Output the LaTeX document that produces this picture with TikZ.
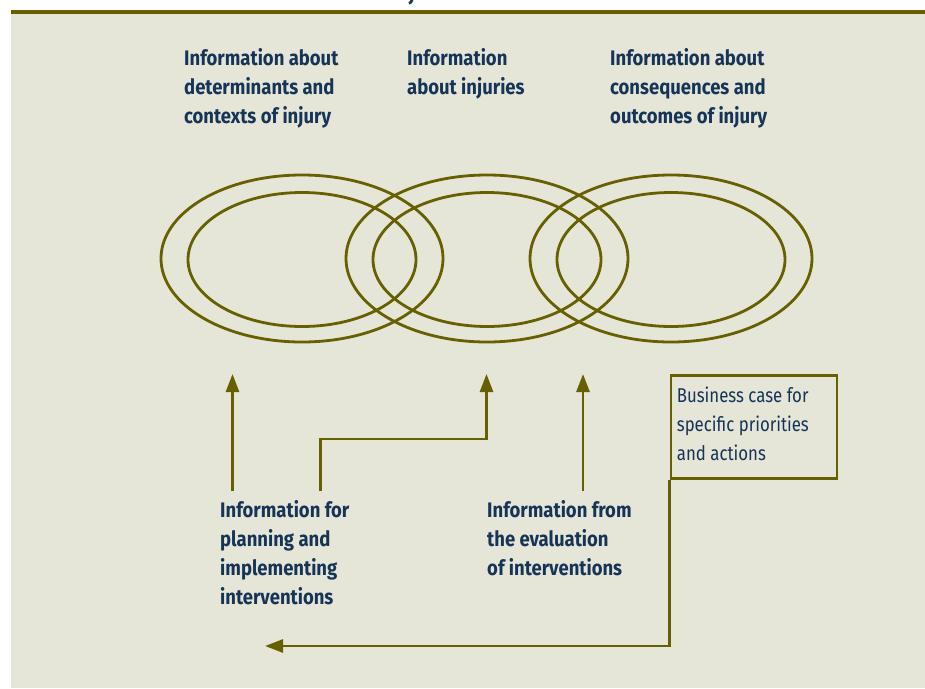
\documentclass[tikz,border=0pt]{standalone}
\usepackage{fontspec}
\setmainfont{Fira Sans}
\newfontfamily\labfont[FakeStretch=0.88]{Fira Sans}
\newfontfamily\boxfont[FakeStretch=0.84]{Fira Sans}
\usetikzlibrary{arrows.meta}

\definecolor{paper}{RGB}{229,229,216}
\definecolor{olive}{RGB}{102,96,0}
\definecolor{navy}{RGB}{22,52,86}

\tikzset{
  ring/.style={draw=olive, line width=2.8pt},
  link/.style={draw=olive, line width=2.7pt},
  tip/.style={-{Triangle[length=18pt,width=13pt]}},
  % multi-line nodes are placed by the baseline of their last line
  heading/.style={font=\labfont\bfseries\fontsize{21}{29}\selectfont,
    text=navy, align=left, inner sep=0pt, anchor=base west},
  boxlabel/.style={font=\boxfont\fontsize{20}{29}\selectfont,
    text=navy, align=left, inner sep=0pt, anchor=base west},
  framebox/.style={draw=olive, line width=2.7pt, inner sep=0pt,
    minimum width=166pt, minimum height=103pt, anchor=north west}
}

\begin{document}
\begin{tikzpicture}[x=1pt,y=-1pt]
  % page and panel
  \useasboundingbox (0,0) rectangle (925,688);
  \fill[white] (0,0) rectangle (925,688);
  \fill[paper] (11,13) rectangle (925,688);
  \fill[olive] (11,10) rectangle (925,13.5);
  \begin{scope}
    \clip (0,0) rectangle (925,10);
    \node[font=\labfont\bfseries\fontsize{21}{24}\selectfont, text=navy,
      inner sep=0pt, anchor=base] (caption) at (412,0) {j};
  \end{scope}

  % three pairs of nested rings
  \foreach \cx in {302,487,671} {
    \draw[ring] (\cx,258.5) ellipse [x radius=141pt, y radius=83.5pt];
    \draw[ring] (\cx,259.5) ellipse [x radius=114pt, y radius=67pt];
  }

  % headings above the rings
  \node[heading] (det) at (184,123.7)
    {Information about\\determinants and\\contexts of injury};
  \node[heading] (inj) at (407,94.7)
    {Information\\about injuries};
  \node[heading] (cons) at (610,123.7)
    {Information about\\consequences and\\outcomes of injury};

  % labels below
  \node[heading] (plan) at (220,604.7)
    {Information for\\planning and\\implementing\\interventions};
  \node[heading] (eval) at (487,575.7)
    {Information from\\the evaluation\\of interventions};

  % business case box
  \node[framebox] (biz) at (669.5,374) {};
  \node[boxlabel] (biztext) at (676.7,460.7)
    {Business case for\\specific priorities\\and actions};

  % connector end points
  \coordinate (s1) at (232.5,491);
  \coordinate (t1) at (232.5,374);
  \coordinate (s2) at (320.7,491);
  \coordinate (k2) at (486.5,439);
  \coordinate (t2) at (486.5,374);
  \coordinate (s3) at (583,491);
  \coordinate (t3) at (583,374);
  \coordinate (back) at (265,646);

  % connectors
  \draw[link,tip] (s1) -- (t1);
  \draw[link,tip] (s2) |- (k2) -- (t2);
  \draw[link,tip] (s3) -- (t3);
  \draw[link,tip] (biz.south west) |- (back);
\end{tikzpicture}
\end{document}
